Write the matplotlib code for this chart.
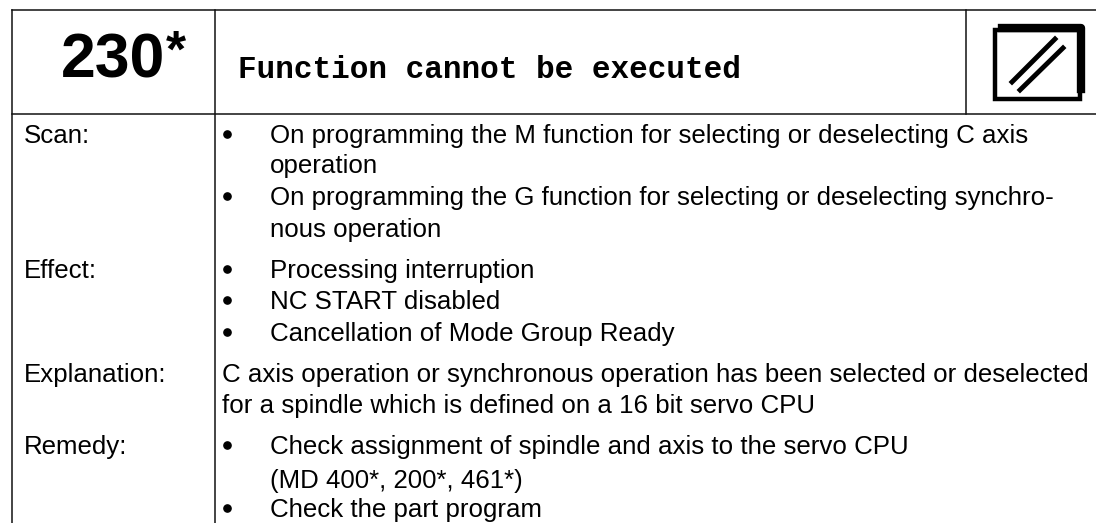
import matplotlib
matplotlib.use("Agg")
import matplotlib.pyplot as plt
from matplotlib.patches import Polygon

# Текст таблицы
code = "230"
title = "Function cannot be executed"
row_labels = ["Scan:", "Effect:", "Explanation:", "Remedy:"]
label_y = [143, 278, 382, 454]
body_lines = [
    "On programming the M function for selecting or deselecting C axis",
    "operation",
    "On programming the G function for selecting or deselecting synchro-",
    "nous operation",
    "Processing interruption",
    "NC START disabled",
    "Cancellation of Mode Group Ready",
    "C axis operation or synchronous operation has been selected or deselected",
    "for a spindle which is defined on a 16 bit servo CPU",
    "Check assignment of spindle and axis to the servo CPU",
    "(MD 400*, 200*, 461*)",
    "Check the part program",
]
body_y = [143, 173, 205, 237, 278, 309, 341, 382, 413, 454, 488, 517]
body_x = [270, 270, 270, 270, 270, 270, 270, 222, 222, 270, 270, 270]
bullet_idx = [0, 2, 4, 5, 6, 9, 11]

W, H = 1096, 523
fig = plt.figure(figsize=(W / 100, H / 100), dpi=100)
ax = fig.add_axes([0, 0, 1, 1])
ax.set_xlim(0, W)
ax.set_ylim(H, 0)
ax.axis("off")

# Линии таблицы
lw = 1.1
ax.plot([12, W], [10, 10], color="#111111", lw=lw)
ax.plot([12, W], [114, 114], color="#111111", lw=lw)
ax.plot([12, 12], [10, H], color="#111111", lw=lw)
ax.plot([215, 215], [10, H], color="#111111", lw=lw)
ax.plot([966, 966], [10, 114], color="#111111", lw=lw)

# Заголовок
ax.text(61, 78, code, fontsize=45, fontweight="bold", family="Liberation Sans", va="baseline")
ax.text(166, 67, "*", fontsize=37, fontweight="bold", family="Liberation Sans", va="baseline")
ax.text(238, 78, title, fontsize=22.4, fontweight="bold", family="Liberation Mono", va="baseline")

# Значок
ax.add_patch(Polygon([(995, 30), (1080, 30), (1080, 99), (995, 99)], closed=True, fill=False, ec="black", lw=3.2))
ax.plot([1002, 1081, 1081], [28, 28, 89], color="black", lw=6, solid_joinstyle="round")
ax.plot([1012, 1055], [82, 39], color="black", lw=3.5)
ax.plot([1020, 1063], [90, 48], color="black", lw=3.5)

# Текст строк
for lab, y in zip(row_labels, label_y):
    ax.text(24, y, lab, fontsize=18.6, family="Liberation Sans", va="baseline")
for i, (s, x, y) in enumerate(zip(body_lines, body_x, body_y)):
    ax.text(x, y, s, fontsize=18.6, family="Liberation Sans", va="baseline")
    if i in bullet_idx:
        ax.plot([227], [y - 9], "o", color="black", ms=5.2)

fig.savefig("out.png", dpi=100)
